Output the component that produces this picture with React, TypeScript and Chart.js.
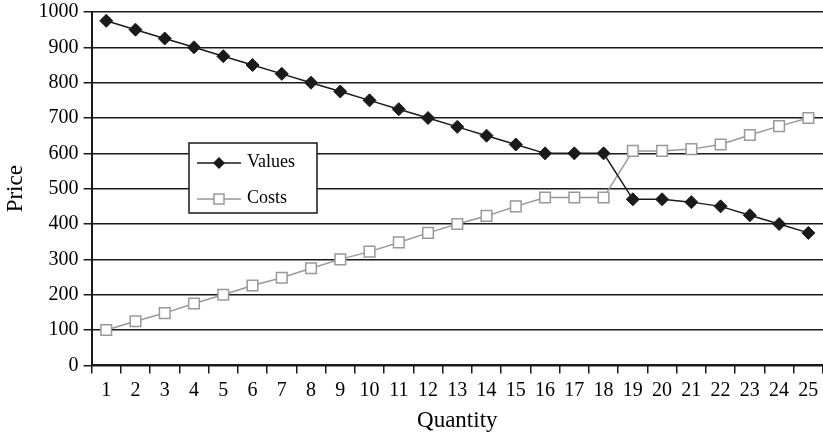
import React, { useEffect, useRef } from "react";
import { Chart, registerables } from "chart.js";

Chart.register(...registerables);

const quantities = ["1","2","3","4","5","6","7","8","9","10","11","12","13","14","15","16","17","18","19","20","21","22","23","24","25"];
const valuesSeries = [975, 950, 925, 900, 875, 850, 825, 800, 775, 750, 725, 700, 675, 650, 625, 600, 600, 600, 470, 470, 462, 450, 425, 400, 375];
const costsSeries = [100, 125, 148, 175, 200, 226, 248, 275, 300, 322, 348, 375, 400, 423, 450, 475, 475, 475, 607, 607, 612, 625, 652, 677, 700];

const FONT = "'Liberation Serif', 'Times New Roman', serif";
const INK = "#1a1a1a";
const GREY = "#999999";

const boxLegend = {
  id: "boxLegend",
  afterDatasetsDraw(chart: any) {
    const ctx = chart.ctx as CanvasRenderingContext2D;
    const x0 = 189, y0 = 143, w = 128, h = 70;
    ctx.save();
    ctx.fillStyle = "#ffffff";
    ctx.fillRect(x0, y0, w, h);
    ctx.strokeStyle = INK;
    ctx.lineWidth = 1.5;
    ctx.strokeRect(x0, y0, w, h);
    const rows = [
      { label: "Values", y: 163, color: INK, kind: "diamond" },
      { label: "Costs", y: 199, color: GREY, kind: "square" },
    ];
    for (const r of rows) {
      ctx.strokeStyle = r.color;
      ctx.lineWidth = 1.5;
      ctx.beginPath();
      ctx.moveTo(197, r.y);
      ctx.lineTo(241, r.y);
      ctx.stroke();
      const cx = 219;
      if (r.kind === "diamond") {
        ctx.fillStyle = INK;
        ctx.beginPath();
        ctx.moveTo(cx, r.y - 6);
        ctx.lineTo(cx + 6, r.y);
        ctx.lineTo(cx, r.y + 6);
        ctx.lineTo(cx - 6, r.y);
        ctx.closePath();
        ctx.fill();
      } else {
        ctx.fillStyle = "#ffffff";
        ctx.fillRect(cx - 5, r.y - 5, 10, 10);
        ctx.strokeStyle = GREY;
        ctx.strokeRect(cx - 5, r.y - 5, 10, 10);
      }
      ctx.fillStyle = "#000";
      ctx.font = `18px ${FONT}`;
      ctx.textBaseline = "middle";
      ctx.textAlign = "left";
      ctx.fillText(r.label, 247, r.y - 1);
    }
    ctx.restore();
  },
};

export default function App() {
  const ref = useRef<HTMLCanvasElement>(null);
  useEffect(() => {
    if (!ref.current) return;
    const chart = new Chart(ref.current, {
      type: "line",
      data: {
        labels: quantities,
        datasets: [
          {
            label: "Values",
            data: valuesSeries,
            borderColor: INK,
            backgroundColor: INK,
            borderWidth: 1.5,
            pointStyle: "rectRot",
            pointRadius: 6.5,
            pointBackgroundColor: INK,
            pointBorderColor: INK,
            pointBorderWidth: 1,
            tension: 0,
            clip: false,
          },
          {
            label: "Costs",
            data: costsSeries,
            borderColor: GREY,
            backgroundColor: "#ffffff",
            borderWidth: 1.5,
            pointStyle: "rect",
            pointRadius: 7.5,
            pointBackgroundColor: "#ffffff",
            pointBorderColor: GREY,
            pointBorderWidth: 1.5,
            tension: 0,
            clip: false,
          },
        ],
      },
      options: {
        responsive: false,
        animation: false,
        layout: { autoPadding: false, padding: { top: 0, right: 0, left: 0, bottom: 2 } },
        plugins: { legend: { display: false }, tooltip: { enabled: false } },
        scales: {
          x: {
            offset: true,
            afterFit: (s: any) => {
              s.paddingRight = 0;
            },
            grid: {
              offset: true,
              drawOnChartArea: false,
              drawTicks: true,
              tickLength: 8,
              color: INK,
              lineWidth: 1.5,
            },
            border: { color: INK, width: 2 },
            ticks: {
              autoSkip: false,
              maxRotation: 0,
              color: "#000",
              font: { family: FONT, size: 20 },
              padding: 5,
            },
            title: {
              display: true,
              text: "Quantity",
              color: "#000",
              font: { family: FONT, size: 23 },
              padding: { top: 0, bottom: 0 },
            },
          },
          y: {
            min: 0,
            max: 1000,
            afterFit: (s: any) => {
              s.paddingTop = 12;
            },
            grid: { color: INK, lineWidth: 1.5, tickLength: 8 },
            border: { color: INK, width: 2 },
            ticks: {
              stepSize: 100,
              color: "#000",
              font: { family: FONT, size: 20 },
              padding: 5,
              callback: (v: any) => String(v),
            },
            title: {
              display: true,
              text: "Price",
              color: "#000",
              font: { family: FONT, size: 23 },
              padding: { top: 2, bottom: 4 },
            },
          },
        },
      },
      plugins: [boxLegend],
    });
    return () => chart.destroy();
  }, []);
  return (
    <div style={{ position: "fixed", left: 0, top: 0, width: 823, height: 437, background: "#fff" }}>
      <canvas ref={ref} width={823} height={437} />
    </div>
  );
}
